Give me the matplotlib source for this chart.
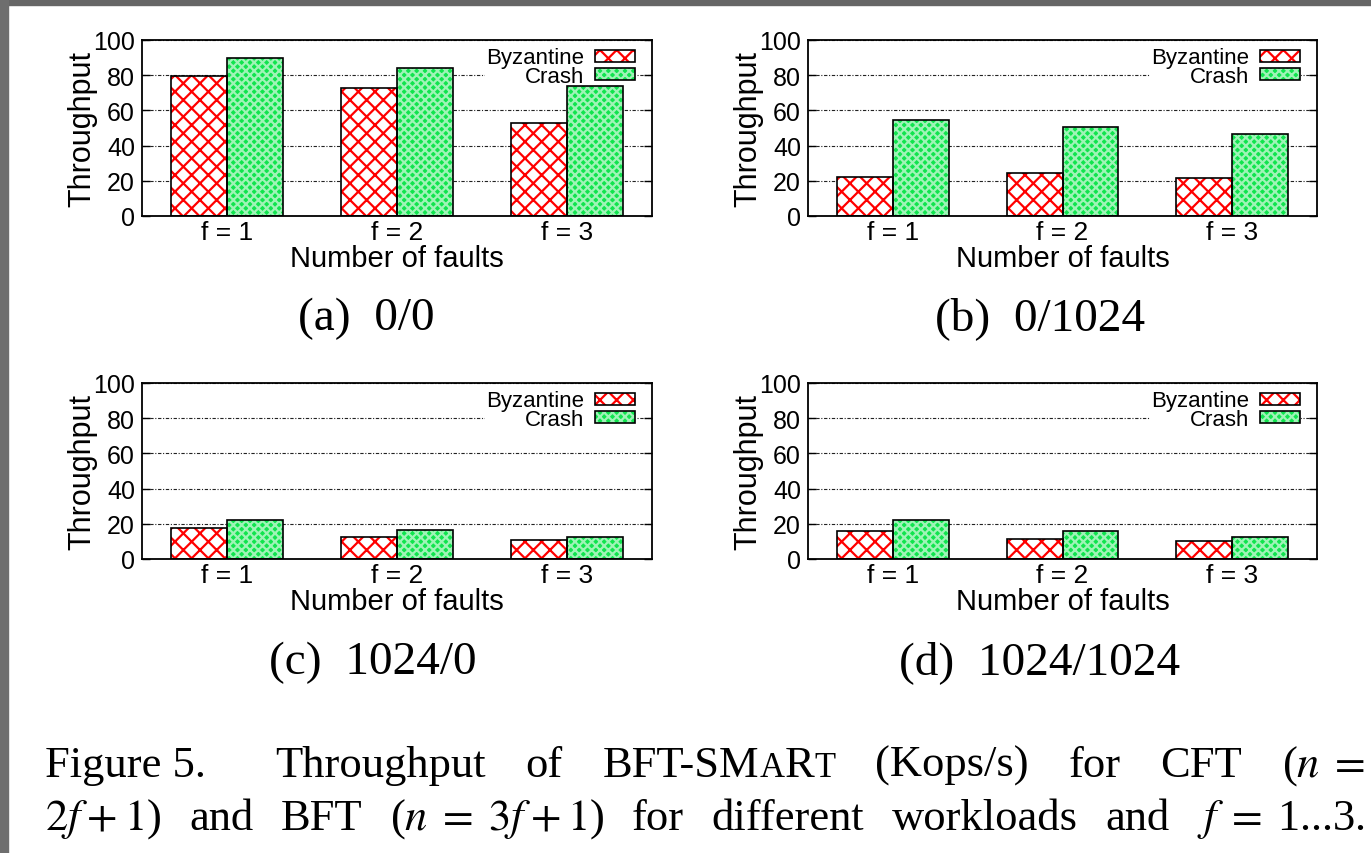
import numpy as np
import matplotlib.pyplot as plt
from matplotlib.patches import Rectangle
from matplotlib.transforms import IdentityTransform

# values (Kops/s)
cases = ["f = 1", "f = 2", "f = 3"]
byz_a = [79.5, 72.5, 53.0]
crash_a = [90.0, 84.0, 74.0]
byz_b = [22.0, 24.5, 21.5]
crash_b = [54.5, 50.5, 46.5]
byz_c = [17.5, 12.3, 10.8]
crash_c = [22.3, 16.2, 12.3]
byz_d = [16.0, 11.3, 10.0]
crash_d = [22.3, 16.0, 12.3]
subcaptions = ["(a)  0/0", "(b)  0/1024", "(c)  1024/0", "(d)  1024/1024"]
yticks = [0, 20, 40, 60, 80, 100]

W, H = 1371, 854
SANS = ["Liberation Sans", "DejaVu Sans"]
SERIF = ["Liberation Serif", "DejaVu Serif"]
plt.rcParams["font.family"] = SANS
plt.rcParams["mathtext.fontset"] = "stix"
plt.rcParams["hatch.linewidth"] = 1.6

fig = plt.figure(figsize=(W / 100, H / 100), dpi=100)

# screenshot border
fig.patches.append(Rectangle((0, 1 - 6 / H), 1, 6 / H, transform=fig.transFigure, color="#666666", zorder=0))
fig.patches.append(Rectangle((0, 0), 8 / W, 1, transform=fig.transFigure, color="#6e6e6e", zorder=0))


def px_axes(left, top, right, bottom):
    return fig.add_axes([left / W, 1 - bottom / H, (right - left) / W, (bottom - top) / H])


def panel(ax, byz, crash):
    x = np.arange(len(cases))
    bw = 0.33
    b1 = ax.bar(x - bw / 2, byz, bw, color="white", edgecolor="red", hatch="xx", linewidth=0, zorder=2)
    o1 = ax.bar(x - bw / 2, byz, bw, fill=False, edgecolor="black", linewidth=1.2, zorder=3)
    b2 = ax.bar(x + bw / 2, crash, bw, color="#10e44e", edgecolor=(1, 1, 1, 0.6), hatch="xxxx", linewidth=0, zorder=2)
    o2 = ax.bar(x + bw / 2, crash, bw, fill=False, edgecolor="black", linewidth=1.2, zorder=3)
    ax.set_xlim(-0.5, 2.5)
    ax.set_ylim(0, 100)
    ax.set_yticks(yticks)
    ax.set_xticks(x)
    ax.set_xticklabels(cases, fontsize=19)
    ax.tick_params(axis="y", direction="in", length=6, width=1, left=True, right=True, labelsize=18, pad=5)
    ax.tick_params(axis="x", length=0, pad=3)
    ax.set_axisbelow(True)
    ax.yaxis.grid(True, linestyle=(0, (3, 1.5, 1, 1.5)), color="#222222", linewidth=0.8)
    for s in ax.spines.values():
        s.set_linewidth(1.3)
    ax.set_ylabel("Throughput", fontsize=22, labelpad=-3)
    ax.set_xlabel("Number of faults", fontsize=21, labelpad=0)
    leg = ax.legend([(b1[0], o1[0]), (b2[0], o2[0])], ["Byzantine", "Crash"],
                    loc="upper right", bbox_to_anchor=(0.968, 0.964), borderaxespad=0,
                    markerfirst=False, fontsize=16, handlelength=1.8, handleheight=0.45,
                    handletextpad=0.45, labelspacing=-0.1, borderpad=0.05,
                    fancybox=False, framealpha=1, edgecolor="none")
    # key box hides the grid but stays under the bars
    leg.set_zorder(1.5)


ax_a = px_axes(142, 41, 652, 217)
panel(ax_a, byz_a, crash_a)
ax_b = px_axes(808, 41, 1317, 217)
panel(ax_b, byz_b, crash_b)
ax_c = px_axes(142, 384, 652, 560)
panel(ax_c, byz_c, crash_c)
ax_d = px_axes(808, 384, 1317, 560)
panel(ax_d, byz_d, crash_d)

# sub-captions
for (cx, cy), s in zip([(366, 330), (1040, 330), (373, 674), (1040, 674)], subcaptions):
    fig.text(cx / W, 1 - cy / H, s, ha="center", va="baseline", fontsize=34, family=SERIF)

# figure caption, justified like the LaTeX source
renderer = fig.canvas.get_renderer()


def justify(tokens, x0, x1, ybase, size):
    placed = []
    total = 0
    for tok in tokens:
        parts = []
        w = 0
        for s, k in tok:
            t = fig.text(0, H - ybase, s, fontsize=size * k, family=SERIF, va="baseline",
                         transform=IdentityTransform())
            pw = t.get_window_extent(renderer).width
            parts.append((t, pw))
            w += pw
        placed.append(parts)
        total += w
    gap = (x1 - x0 - total) / max(len(tokens) - 1, 1)
    x = x0
    for parts in placed:
        for t, pw in parts:
            t.set_x(x)
            x += pw
        x += gap


CAP = 32
justify([[("Figure 5.", 1)]], 45, 205, 777, CAP)
justify([[("Throughput", 1)], [("of", 1)],
         [("BFT-SM", 1), ("A", 0.78), ("R", 1), ("T", 0.78)],
         [("(Kops/s)", 1)], [("for", 1)], [("CFT", 1)], [("($n\\;=$", 1)]],
        275, 1365, 777, CAP)
justify([[("$2f\\:+\\:1$)", 1)], [("and", 1)], [("BFT", 1)], [("($n\\;=\\;3f\\:+\\:1$)", 1)],
         [("for", 1)], [("different", 1)], [("workloads", 1)], [("and", 1)],
         [("$f\\;=\\;$1...3.", 1)]],
        45, 1365, 830, CAP)

plt.savefig("out.png", dpi=100)
